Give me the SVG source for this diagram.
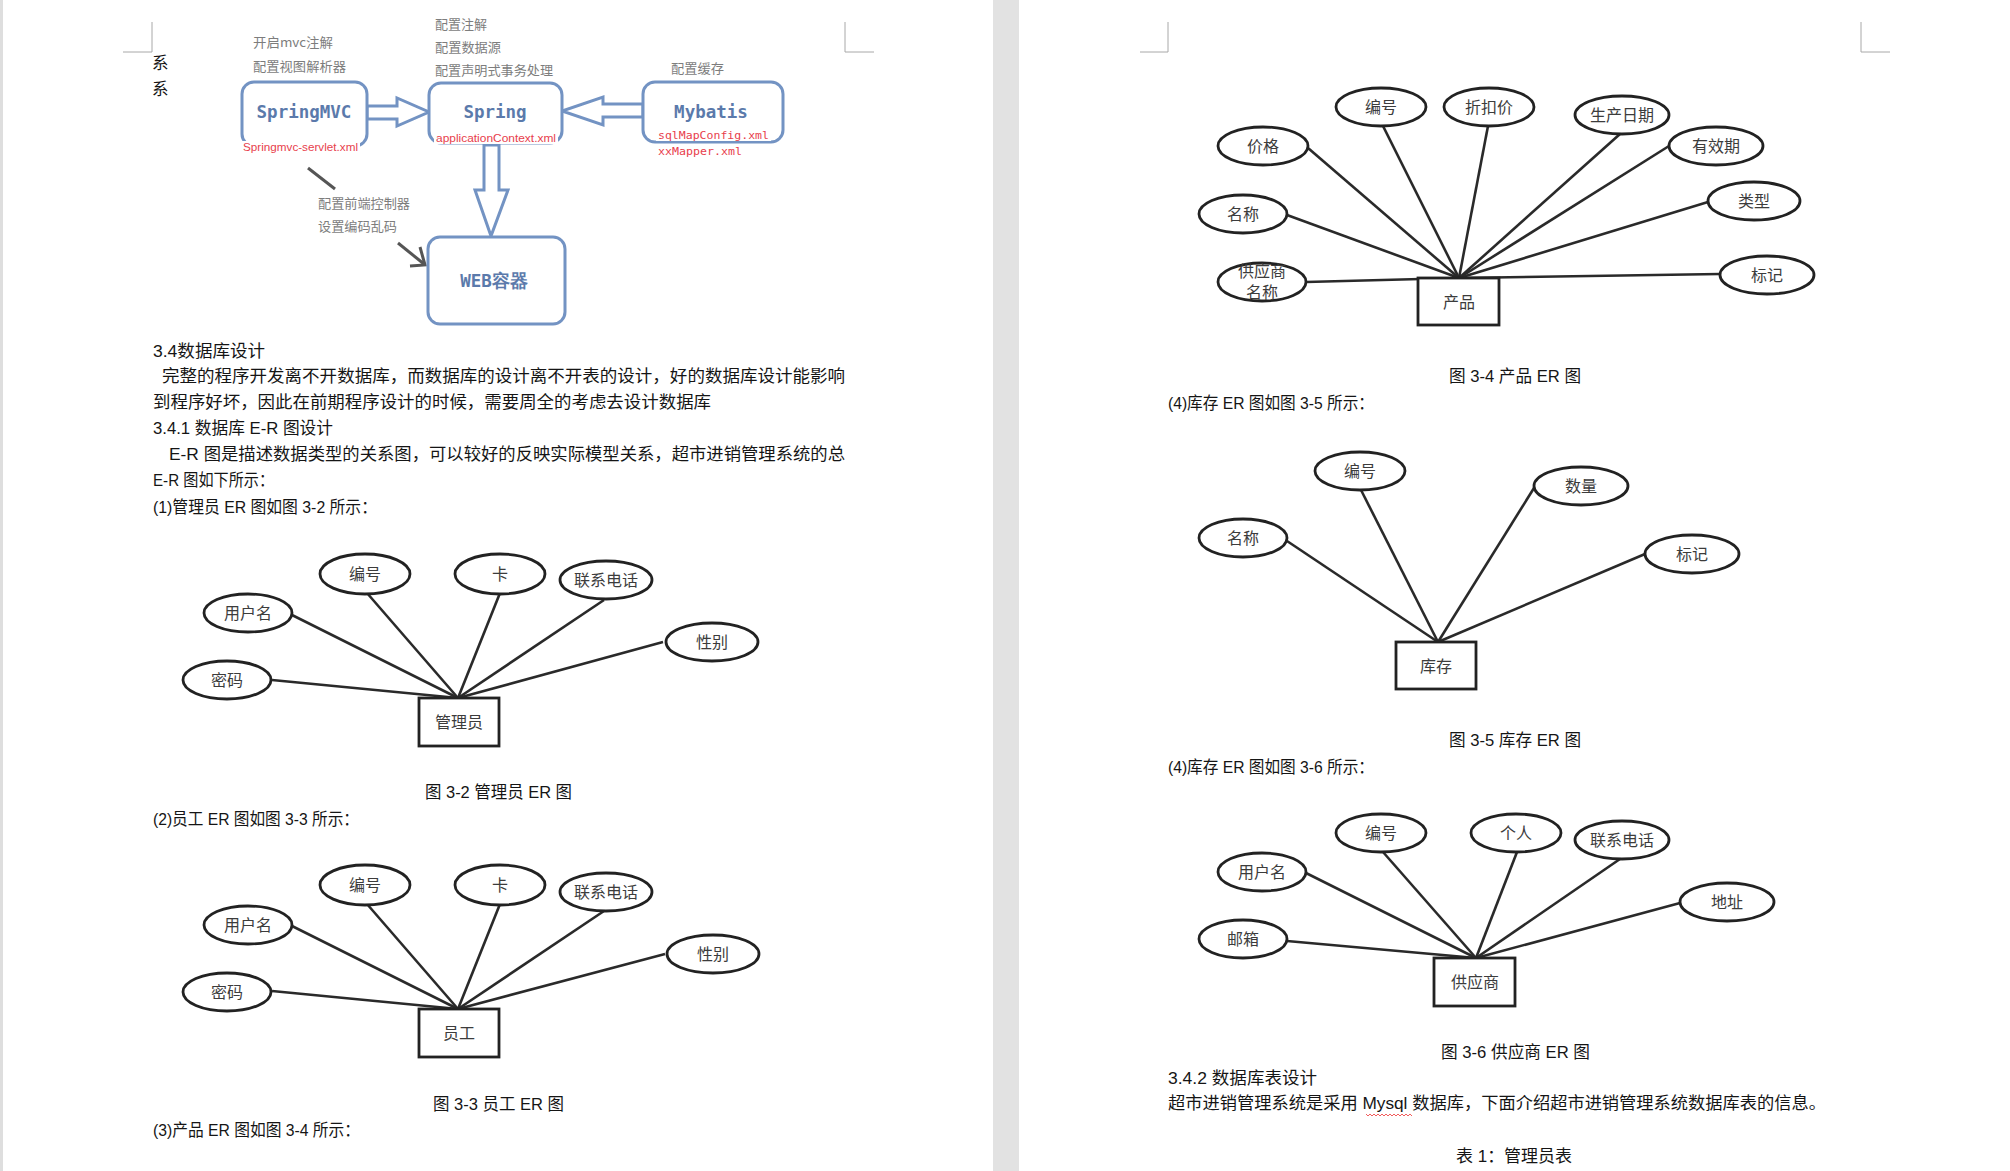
<svg xmlns="http://www.w3.org/2000/svg" width="2010" height="1171" viewBox="0 0 2010 1171">
<defs>
<style>
.body{font-family:"Liberation Sans","Noto Sans CJK SC",sans-serif;font-size:16.5px;fill:#151515}
.note{font-family:"Noto Sans CJK SC",sans-serif;font-size:13px;fill:#7d7d7d}
.fw{fill:#fff;stroke:#7393c3;stroke-width:3}
.bt{font-family:"DejaVu Sans Mono","Liberation Mono",monospace;font-weight:bold;font-size:17.5px;fill:#5b7aab;text-anchor:middle}
.red{font-family:"Liberation Sans",sans-serif;font-size:11.5px;fill:#e8404c}
.redm{font-family:"DejaVu Sans Mono","Liberation Mono",monospace;font-size:11px;fill:#e8404c}
.ell{fill:#fff;stroke:#222;stroke-width:2.8}
.ent{fill:#fff;stroke:#222;stroke-width:2.8}
.lbl{font-family:"Noto Sans CJK SC",sans-serif;font-size:16px;fill:#3c3c3c;text-anchor:middle}
.er line{stroke:#2a2a2a;stroke-width:2.6}
.mark{stroke:#a8a8a8;stroke-width:1;fill:none}
</style>
</defs>
<rect x="0" y="0" width="2010" height="1171" fill="#fff"/>
<rect x="0" y="0" width="3" height="1171" fill="#dedede"/>
<rect x="993" y="0" width="26" height="1171" fill="#e2e2e2"/>

<g id="corner-marks">
<path class="mark" d="M123 52H152V22M845 22V52H874M1140 52H1168V22M1861 22V52H1890"/>
</g>

<text class="body" x="152" y="69" font-size="17">系</text>
<text class="body" x="152" y="95" font-size="17">系</text>

<g id="spring-notes">
<text class="note" x="253" y="47" textLength="80" lengthAdjust="spacingAndGlyphs">开启mvc注解</text>
<text class="note" x="253" y="71" textLength="93" lengthAdjust="spacingAndGlyphs">配置视图解析器</text>
<text class="note" x="435" y="29" textLength="52" lengthAdjust="spacingAndGlyphs">配置注解</text>
<text class="note" x="435" y="52" textLength="66" lengthAdjust="spacingAndGlyphs">配置数据源</text>
<text class="note" x="435" y="75" textLength="118" lengthAdjust="spacingAndGlyphs">配置声明式事务处理</text>
<text class="note" x="671" y="73" textLength="53" lengthAdjust="spacingAndGlyphs">配置缓存</text>
<text class="note" x="318" y="208" textLength="92" lengthAdjust="spacingAndGlyphs">配置前端控制器</text>
<text class="note" x="318" y="231" textLength="79" lengthAdjust="spacingAndGlyphs">设置编码乱码</text>
</g>

<g id="spring-connectors">
<polygon class="fw" points="367,106 397,106 397,98 429,112 397,126 397,119 367,119"/>
<polygon class="fw" points="643,104 603,104 603,97 562,111 603,125 603,117 643,117"/>
<polygon class="fw" points="484,145 499,145 499,190 508,190 491,236 475,190 484,190"/>
<line x1="308" y1="168" x2="335" y2="189" stroke="#555" stroke-width="3"/>
<line x1="398" y1="243" x2="424" y2="264" stroke="#555" stroke-width="3"/>
<polyline points="420,247 425,265 410,266" fill="none" stroke="#555" stroke-width="3"/>
</g>

<g id="node-springmvc">
<rect class="fw" x="242" y="82" width="125" height="64" rx="12"/>
<text class="bt" x="304" y="118">SpringMVC</text>
<rect x="242" y="141" width="118" height="12" fill="#fff"/>
<text class="red" x="243" y="151" textLength="115" lengthAdjust="spacingAndGlyphs">Springmvc-servlet.xml</text>
</g>
<g id="node-spring">
<rect class="fw" x="429" y="83" width="133" height="60" rx="12"/>
<text class="bt" x="495" y="118">Spring</text>
<rect x="434" y="133" width="124" height="11" fill="#fff"/>
<text class="red" x="436" y="142" textLength="120" lengthAdjust="spacingAndGlyphs">applicationContext.xml</text>
</g>
<g id="node-mybatis">
<rect class="fw" x="643" y="82" width="140" height="60" rx="12"/>
<text class="bt" x="711" y="118">Mybatis</text>
<rect x="656" y="130" width="115" height="11" fill="#fff"/>
<text class="redm" x="658" y="139" textLength="111" lengthAdjust="spacingAndGlyphs">sqlMapConfig.xml</text>
<text class="redm" x="658" y="155" textLength="84" lengthAdjust="spacingAndGlyphs">xxMapper.xml</text>
</g>
<g id="node-web">
<rect class="fw" x="428" y="237" width="137" height="87" rx="12"/>
<text class="bt" x="494" y="287" font-family="Noto Sans CJK SC,sans-serif" font-size="18">WEB容器</text>
</g>

<g id="text-left">
<text class="body" x="153" y="357" textLength="112" lengthAdjust="spacingAndGlyphs">3.4数据库设计</text>
<text class="body" x="162" y="382" textLength="683" lengthAdjust="spacingAndGlyphs">完整的程序开发离不开数据库，而数据库的设计离不开表的设计，好的数据库设计能影响</text>
<text class="body" x="153" y="408" textLength="558" lengthAdjust="spacingAndGlyphs">到程序好坏，因此在前期程序设计的时候，需要周全的考虑去设计数据库</text>
<text class="body" x="153" y="434" textLength="180" lengthAdjust="spacingAndGlyphs">3.4.1 数据库 E-R 图设计</text>
<text class="body" x="169" y="460" textLength="676" lengthAdjust="spacingAndGlyphs">E-R 图是描述数据类型的关系图，可以较好的反映实际模型关系，超市进销管理系统的总</text>
<text class="body" x="153" y="486" textLength="121" lengthAdjust="spacingAndGlyphs">E-R 图如下所示：</text>
<text class="body" x="153" y="513" textLength="224" lengthAdjust="spacingAndGlyphs">(1)管理员 ER 图如图 3-2 所示：</text>
<text class="body" x="425" y="798" textLength="147" lengthAdjust="spacingAndGlyphs">图 3-2 管理员 ER 图</text>
<text class="body" x="153" y="825" textLength="206" lengthAdjust="spacingAndGlyphs">(2)员工 ER 图如图 3-3 所示：</text>
<text class="body" x="433" y="1110" textLength="131" lengthAdjust="spacingAndGlyphs">图 3-3 员工 ER 图</text>
<text class="body" x="153" y="1136" textLength="207" lengthAdjust="spacingAndGlyphs">(3)产品 ER 图如图 3-4 所示：</text>
</g>

<g id="text-right">
<text class="body" x="1449" y="382" textLength="132" lengthAdjust="spacingAndGlyphs">图 3-4 产品 ER 图</text>
<text class="body" x="1168" y="409" textLength="206" lengthAdjust="spacingAndGlyphs">(4)库存 ER 图如图 3-5 所示：</text>
<text class="body" x="1449" y="746" textLength="132" lengthAdjust="spacingAndGlyphs">图 3-5 库存 ER 图</text>
<text class="body" x="1168" y="773" textLength="206" lengthAdjust="spacingAndGlyphs">(4)库存 ER 图如图 3-6 所示：</text>
<text class="body" x="1441" y="1058" textLength="149" lengthAdjust="spacingAndGlyphs">图 3-6 供应商 ER 图</text>
<text class="body" x="1168" y="1084" textLength="149" lengthAdjust="spacingAndGlyphs">3.4.2 数据库表设计</text>
<text class="body" x="1168" y="1109" textLength="658" lengthAdjust="spacingAndGlyphs">超市进销管理系统是采用 Mysql 数据库，下面介绍超市进销管理系统数据库表的信息。</text>
<path d="M1366 1114l2 2 2-2 2 2 2-2 2 2 2-2 2 2 2-2 2 2 2-2 2 2 2-2 2 2 2-2 2 2 2-2 2 2 2-2 2 2 2-2 2 2 2-2 2 2" fill="none" stroke="#e33" stroke-width="0.8"/>
<text class="body" x="1456" y="1162" textLength="116" lengthAdjust="spacingAndGlyphs">表 1：管理员表</text>
</g>

<!-- connectors of ER diagrams -->
<g id="er-connectors" class="er">
<line x1="292" y1="615" x2="458" y2="698"/>
<line x1="367" y1="593" x2="458" y2="698"/>
<line x1="500" y1="593" x2="458" y2="698"/>
<line x1="604" y1="600" x2="458" y2="698"/>
<line x1="663" y1="642" x2="458" y2="698"/>
<line x1="272" y1="680" x2="458" y2="698"/>

<line x1="292" y1="926" x2="458" y2="1009"/>
<line x1="367" y1="904" x2="458" y2="1009"/>
<line x1="500" y1="904" x2="458" y2="1009"/>
<line x1="604" y1="911" x2="458" y2="1009"/>
<line x1="665" y1="954" x2="458" y2="1009"/>
<line x1="272" y1="991" x2="458" y2="1009"/>

<line x1="1308" y1="148" x2="1459" y2="278"/>
<line x1="1383" y1="126" x2="1459" y2="278"/>
<line x1="1488" y1="126" x2="1459" y2="278"/>
<line x1="1620" y1="134" x2="1459" y2="278"/>
<line x1="1669" y1="146" x2="1459" y2="278"/>
<line x1="1708" y1="202" x2="1459" y2="278"/>
<line x1="1287" y1="215" x2="1459" y2="278"/>
<line x1="1306" y1="282" x2="1459" y2="278"/>
<line x1="1720" y1="274" x2="1459" y2="278"/>

<line x1="1287" y1="541" x2="1438" y2="642"/>
<line x1="1361" y1="490" x2="1438" y2="642"/>
<line x1="1534" y1="488" x2="1438" y2="642"/>
<line x1="1645" y1="554" x2="1438" y2="642"/>

<line x1="1306" y1="873" x2="1476" y2="958"/>
<line x1="1383" y1="852" x2="1476" y2="958"/>
<line x1="1517" y1="852" x2="1476" y2="958"/>
<line x1="1620" y1="859" x2="1476" y2="958"/>
<line x1="1680" y1="903" x2="1476" y2="958"/>
<line x1="1287" y1="941" x2="1476" y2="958"/>
</g>

<!-- ER 3-2 管理员 -->
<g id="admin"><rect class="ent" x="419" y="698" width="80" height="48"/><text class="lbl" x="459" y="728">管理员</text></g>
<g id="admin-id"><ellipse class="ell" cx="365" cy="574" rx="45" ry="20"/><text class="lbl" x="365" y="580">编号</text></g>
<g id="admin-card"><ellipse class="ell" cx="500" cy="574" rx="45" ry="20"/><text class="lbl" x="500" y="580">卡</text></g>
<g id="admin-phone"><ellipse class="ell" cx="606" cy="580" rx="46" ry="19"/><text class="lbl" x="606" y="586">联系电话</text></g>
<g id="admin-user"><ellipse class="ell" cx="248" cy="613" rx="44" ry="19"/><text class="lbl" x="248" y="619">用户名</text></g>
<g id="admin-sex"><ellipse class="ell" cx="712" cy="642" rx="46" ry="19"/><text class="lbl" x="712" y="648">性别</text></g>
<g id="admin-pwd"><ellipse class="ell" cx="227" cy="680" rx="44" ry="19"/><text class="lbl" x="227" y="686">密码</text></g>

<!-- ER 3-3 员工 -->
<g id="staff"><rect class="ent" x="419" y="1009" width="80" height="48"/><text class="lbl" x="459" y="1039">员工</text></g>
<g id="staff-id"><ellipse class="ell" cx="365" cy="885" rx="45" ry="20"/><text class="lbl" x="365" y="891">编号</text></g>
<g id="staff-card"><ellipse class="ell" cx="500" cy="885" rx="45" ry="20"/><text class="lbl" x="500" y="891">卡</text></g>
<g id="staff-phone"><ellipse class="ell" cx="606" cy="892" rx="46" ry="19"/><text class="lbl" x="606" y="898">联系电话</text></g>
<g id="staff-user"><ellipse class="ell" cx="248" cy="925" rx="44" ry="19"/><text class="lbl" x="248" y="931">用户名</text></g>
<g id="staff-sex"><ellipse class="ell" cx="713" cy="954" rx="46" ry="19"/><text class="lbl" x="713" y="960">性别</text></g>
<g id="staff-pwd"><ellipse class="ell" cx="227" cy="992" rx="44" ry="19"/><text class="lbl" x="227" y="998">密码</text></g>

<!-- ER 3-4 产品 -->
<g id="product"><rect class="ent" x="1418" y="278" width="81" height="47"/><text class="lbl" x="1459" y="308">产品</text></g>
<g id="product-id"><ellipse class="ell" cx="1381" cy="107" rx="45" ry="19"/><text class="lbl" x="1381" y="113">编号</text></g>
<g id="product-discount"><ellipse class="ell" cx="1489" cy="107" rx="45" ry="19"/><text class="lbl" x="1489" y="113">折扣价</text></g>
<g id="product-date"><ellipse class="ell" cx="1622" cy="115" rx="47" ry="19"/><text class="lbl" x="1622" y="121">生产日期</text></g>
<g id="product-price"><ellipse class="ell" cx="1263" cy="146" rx="45" ry="19"/><text class="lbl" x="1263" y="152">价格</text></g>
<g id="product-expiry"><ellipse class="ell" cx="1716" cy="146" rx="47" ry="19"/><text class="lbl" x="1716" y="152">有效期</text></g>
<g id="product-name"><ellipse class="ell" cx="1243" cy="214" rx="44" ry="19"/><text class="lbl" x="1243" y="220">名称</text></g>
<g id="product-type"><ellipse class="ell" cx="1754" cy="201" rx="46" ry="19"/><text class="lbl" x="1754" y="207">类型</text></g>
<g id="product-supplier"><ellipse class="ell" cx="1262" cy="282" rx="44" ry="19"/><text class="lbl" x="1262" y="277" font-size="14.5">供应商</text><text class="lbl" x="1262" y="298" font-size="14.5">名称</text></g>
<g id="product-flag"><ellipse class="ell" cx="1767" cy="275" rx="47" ry="19"/><text class="lbl" x="1767" y="281">标记</text></g>

<!-- ER 3-5 库存 -->
<g id="stock"><rect class="ent" x="1396" y="642" width="80" height="47"/><text class="lbl" x="1436" y="672">库存</text></g>
<g id="stock-id"><ellipse class="ell" cx="1360" cy="471" rx="45" ry="19"/><text class="lbl" x="1360" y="477">编号</text></g>
<g id="stock-qty"><ellipse class="ell" cx="1581" cy="486" rx="47" ry="19"/><text class="lbl" x="1581" y="492">数量</text></g>
<g id="stock-name"><ellipse class="ell" cx="1243" cy="538" rx="44" ry="19"/><text class="lbl" x="1243" y="544">名称</text></g>
<g id="stock-flag"><ellipse class="ell" cx="1692" cy="554" rx="47" ry="19"/><text class="lbl" x="1692" y="560">标记</text></g>

<!-- ER 3-6 供应商 -->
<g id="supplier"><rect class="ent" x="1434" y="958" width="81" height="48"/><text class="lbl" x="1475" y="988">供应商</text></g>
<g id="supplier-id"><ellipse class="ell" cx="1381" cy="833" rx="45" ry="19"/><text class="lbl" x="1381" y="839">编号</text></g>
<g id="supplier-person"><ellipse class="ell" cx="1516" cy="833" rx="45" ry="19"/><text class="lbl" x="1516" y="839">个人</text></g>
<g id="supplier-phone"><ellipse class="ell" cx="1622" cy="840" rx="47" ry="19"/><text class="lbl" x="1622" y="846">联系电话</text></g>
<g id="supplier-user"><ellipse class="ell" cx="1262" cy="872" rx="44" ry="19"/><text class="lbl" x="1262" y="878">用户名</text></g>
<g id="supplier-addr"><ellipse class="ell" cx="1727" cy="902" rx="47" ry="19"/><text class="lbl" x="1727" y="908">地址</text></g>
<g id="supplier-mail"><ellipse class="ell" cx="1243" cy="939" rx="44" ry="19"/><text class="lbl" x="1243" y="945">邮箱</text></g>
</svg>
